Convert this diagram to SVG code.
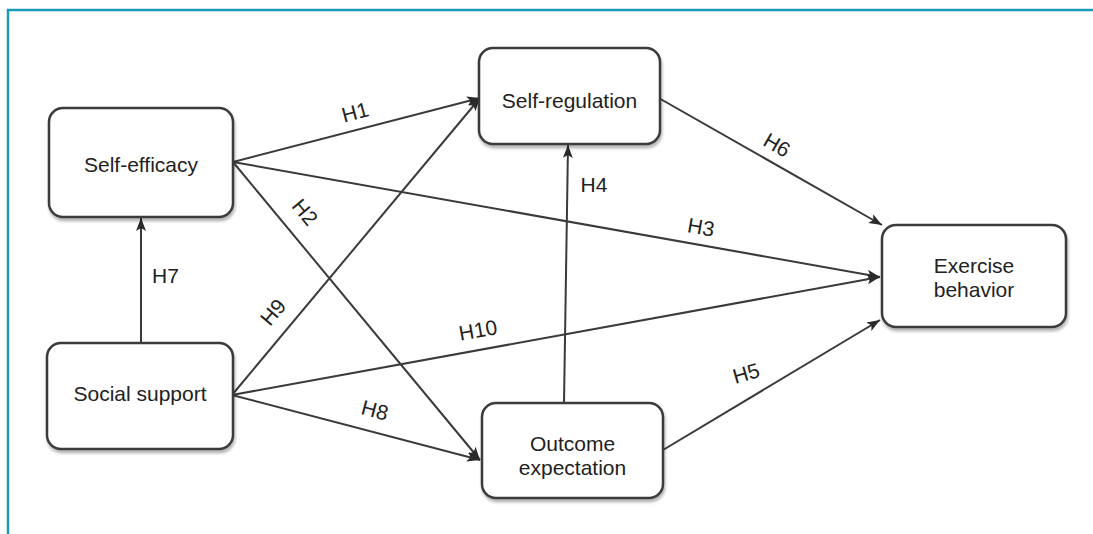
<svg xmlns="http://www.w3.org/2000/svg" width="1093" height="534" viewBox="0 0 1093 534">
<style>
.box{fill:#fff;stroke:#3a3a3a;stroke-width:2.5;filter:url(#sh)}
.t{font-family:"Liberation Sans",Arial,Helvetica,sans-serif;font-size:21px;fill:#222;text-anchor:middle}
.e{fill:none;stroke:#3a3a3a;stroke-width:2;marker-end:url(#arr)}
.frame{stroke:#1b9ab6;stroke-width:2.5;fill:none}
</style>
<defs>
<marker id="arr" markerUnits="userSpaceOnUse" markerWidth="14" markerHeight="11" refX="13" refY="5" orient="auto">
<path d="M0,0 L13,5 L0,10 L3,5 z" fill="#2a2a2a"/>
</marker>
<filter id="sh" x="-10%" y="-10%" width="125%" height="130%">
<feDropShadow dx="1" dy="3" stdDeviation="1.5" flood-color="#000" flood-opacity="0.3"/>
</filter>
</defs>
<rect width="1093" height="534" fill="#fff"/>
<path class="frame" d="M8,534 L8,10 L1093,10"/>

<g id="connectors">
<line class="e" x1="233" y1="162" x2="480" y2="98"/>
<line class="e" x1="233" y1="162" x2="480" y2="460"/>
<line class="e" x1="233" y1="162" x2="880" y2="277"/>
<line class="e" x1="232" y1="395" x2="480" y2="98"/>
<line class="e" x1="232" y1="395" x2="880" y2="277"/>
<line class="e" x1="232" y1="395" x2="480" y2="460"/>
<line class="e" x1="141" y1="343" x2="141" y2="218"/>
<line class="e" x1="564" y1="403" x2="568" y2="145"/>
<line class="e" x1="663" y1="450" x2="880" y2="320"/>
<line class="e" x1="657" y1="97" x2="882" y2="225"/>
<text class="t" transform="translate(355,112) rotate(-15)" y="7.5">H1</text>
<text class="t" transform="translate(305,212) rotate(50)" y="7.5">H2</text>
<text class="t" transform="translate(701,227) rotate(10)" y="7.5">H3</text>
<text class="t" x="594" y="192">H4</text>
<text class="t" transform="translate(746,373) rotate(-16)" y="7.5">H5</text>
<text class="t" transform="translate(777,145) rotate(30)" y="7.5">H6</text>
<text class="t" x="165.5" y="283">H7</text>
<text class="t" transform="translate(375,410) rotate(15)" y="7.5">H8</text>
<text class="t" transform="translate(273,312) rotate(-50)" y="7.5">H9</text>
<text class="t" transform="translate(478,330) rotate(-10)" y="7.5">H10</text>
</g>

<g id="self-efficacy">
<rect class="box" x="49" y="108" width="184" height="109" rx="14"/>
<text class="t" x="141" y="172">Self-efficacy</text>
</g>
<g id="social-support">
<rect class="box" x="47" y="343" width="186" height="106" rx="14"/>
<text class="t" x="140" y="401">Social support</text>
</g>
<g id="self-regulation">
<rect class="box" x="479" y="48" width="181" height="96" rx="14"/>
<text class="t" x="569.5" y="108">Self-regulation</text>
</g>
<g id="outcome-expectation">
<rect class="box" x="482" y="403" width="181" height="95" rx="14"/>
<text class="t" x="572.5" y="451">Outcome</text>
<text class="t" x="572.5" y="475">expectation</text>
</g>
<g id="exercise-behavior">
<rect class="box" x="882" y="225" width="184" height="102" rx="14"/>
<text class="t" x="974" y="273">Exercise</text>
<text class="t" x="974" y="297">behavior</text>
</g>
</svg>
